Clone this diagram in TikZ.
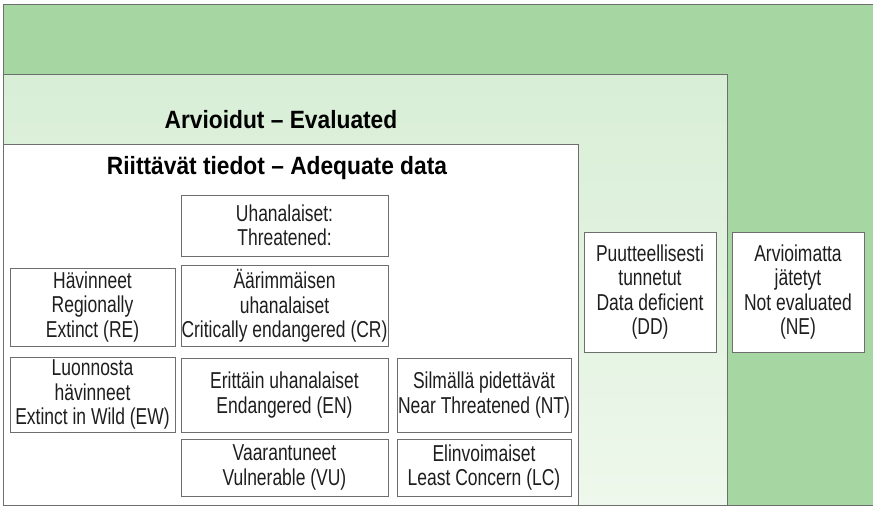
\documentclass[tikz,border=0pt]{standalone}
\usepackage{fontspec}
\setmainfont{Liberation Sans}[FakeStretch=0.76]
\newfontfamily\titlefont{Liberation Sans}[FakeStretch=0.91]
\definecolor{outergreen}{RGB}{166,215,162}
\definecolor{evaltop}{RGB}{216,238,214}
\definecolor{evalbot}{RGB}{238,248,236}
\definecolor{edgegray}{RGB}{110,110,110}
\definecolor{inkgray}{RGB}{30,30,30}
\begin{document}
\begin{tikzpicture}[x=1pt,y=-1pt,
  catbox/.style={draw=edgegray,line width=0.8pt,fill=white,inner sep=0pt,align=center,
    text=inkgray,font=\fontsize{23}{24.5}\selectfont},
  title/.style={font=\titlefont\fontsize{25}{28}\selectfont\bfseries,inner sep=0pt,text=black}]
\useasboundingbox (0,0) rectangle (873,506);
\fill[white] (0,0) rectangle (873,506);
% regions
\draw[edgegray,line width=0.8pt,fill=outergreen] (3,4) rectangle (876,505);
\draw[edgegray,line width=0.8pt,top color=evaltop,bottom color=evalbot] (3,74) rectangle (727,505);
\draw[edgegray,line width=0.8pt,fill=white] (3,144) rectangle (578,505);
\node[title] (evaluated) at (281,120) {Arvioidut – Evaluated};
\node[title] (adequate) at (277,168) {Riittävät tiedot – Adequate data};
% boxes
\node[catbox,minimum width=207,minimum height=61] (th) at (284.5,225.5) {Uhanalaiset:\\Threatened:};
\node[catbox,minimum width=207,minimum height=81] (cr) at (284.5,306) {Äärimmäisen\\uhanalaiset\\Critically endangered (CR)};
\node[catbox,minimum width=165,minimum height=78] (re) at (92.5,307) {Hävinneet\\Regionally\\Extinct (RE)};
\node[catbox,minimum width=165,minimum height=75] (ew) at (92.5,394.5) {Luonnosta\\hävinneet\\Extinct in Wild (EW)};
\node[catbox,minimum width=207,minimum height=74] (en) at (284.5,395) {Erittäin uhanalaiset\\Endangered (EN)};
\node[catbox,minimum width=174,minimum height=74] (nt) at (484,395) {Silmällä pidettävät\\Near Threatened (NT)};
\node[catbox,minimum width=207,minimum height=57] (vu) at (284.5,467.5) {Vaarantuneet\\Vulnerable (VU)};
\node[catbox,minimum width=174,minimum height=57] (lc) at (484,467.5) {Elinvoimaiset\\Least Concern (LC)};
\node[catbox,minimum width=132,minimum height=120] (dd) at (650,292) {Puutteellisesti\\tunnetut\\Data deficient\\(DD)};
\node[catbox,minimum width=132,minimum height=120] (ne) at (798,292) {Arvioimatta\\jätetyt\\Not evaluated\\(NE)};
\end{tikzpicture}
\end{document}
